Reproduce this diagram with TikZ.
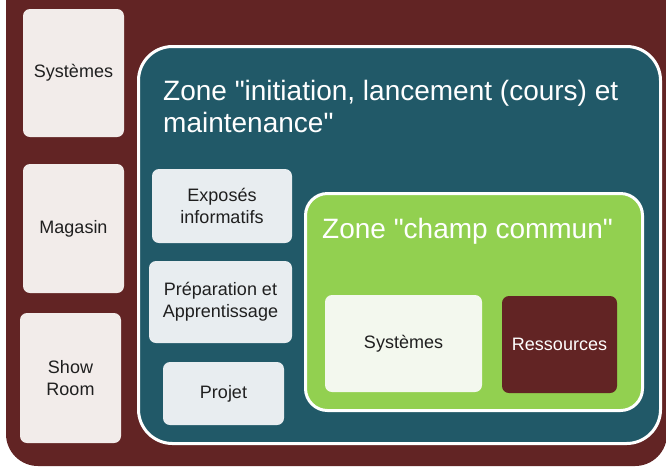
\documentclass[tikz,border=0pt]{standalone}
\usepackage{fontspec}
\setmainfont{Liberation Sans}[Ligatures=TeXOff]
\definecolor{bordeaux}{HTML}{622424}
\definecolor{petrole}{HTML}{215968}
\definecolor{vert}{HTML}{92D050}
\definecolor{rose}{HTML}{F2ECEA}
\definecolor{gris}{HTML}{E8EDF0}
\definecolor{clair}{HTML}{F3F8EE}
\begin{document}
\begin{tikzpicture}[x=1pt,y=-1pt,
    tile/.style={rectangle,rounded corners=7pt,inner sep=0pt,align=center,
      font=\fontsize{18}{22}\selectfont,text=black!88},
    zone/.style={rectangle,draw=white,line width=3pt,inner sep=0pt},
    zonetitle/.style={text=white,align=left,inner sep=0pt,anchor=base west,
      font=\fontsize{28}{32}\selectfont}]
      \clip (0,0) rectangle (666,467);
      \fill[white] (0,0) rectangle (666,467);
      \fill[bordeaux,rounded corners=32pt] (6,-60) rectangle (667,466);
      \node[zone,fill=petrole,rounded corners=34pt,minimum width=522pt,minimum height=397pt]
        (initzone) at (399.5,245) {};
      \node[zone,fill=vert,rounded corners=22pt,minimum width=337pt,minimum height=217pt]
        (commonzone) at (474,302) {};
      \node[zonetitle] (inittitle) at (163,132) {Zone "initiation, lancement (cours) et\\maintenance"};
      \node[zonetitle] (commontitle) at (322,238) {Zone "champ commun"};
      \node[tile,fill=rose,minimum width=101pt,minimum height=128pt] (systemes) at (73.5,73) {Systèmes};
      \node[tile,fill=rose,minimum width=101pt,minimum height=129pt] (magasin) at (73.5,228.5) {Magasin};
      \node[tile,fill=rose,minimum width=101pt,minimum height=130pt] (showroom) at (70.5,378) {Show\\Room};
      \node[tile,fill=gris,minimum width=140pt,minimum height=74pt] (exposes) at (222,206) {Exposés\\informatifs};
      \node[tile,fill=gris,minimum width=143pt,minimum height=82pt] (preparation) at (220.5,302) {Préparation et\\Apprentissage};
      \node[tile,fill=gris,minimum width=121pt,minimum height=63pt] (projet) at (223.5,393.5) {Projet};
      \node[tile,fill=clair,minimum width=157pt,minimum height=97pt] (systemescommun) at (403.5,343.5) {Systèmes};
      \node[tile,fill=bordeaux,text=white,minimum width=115pt,minimum height=97pt] (ressources) at (559.5,344.5) {Ressources};
    \end{tikzpicture}
\end{document}
